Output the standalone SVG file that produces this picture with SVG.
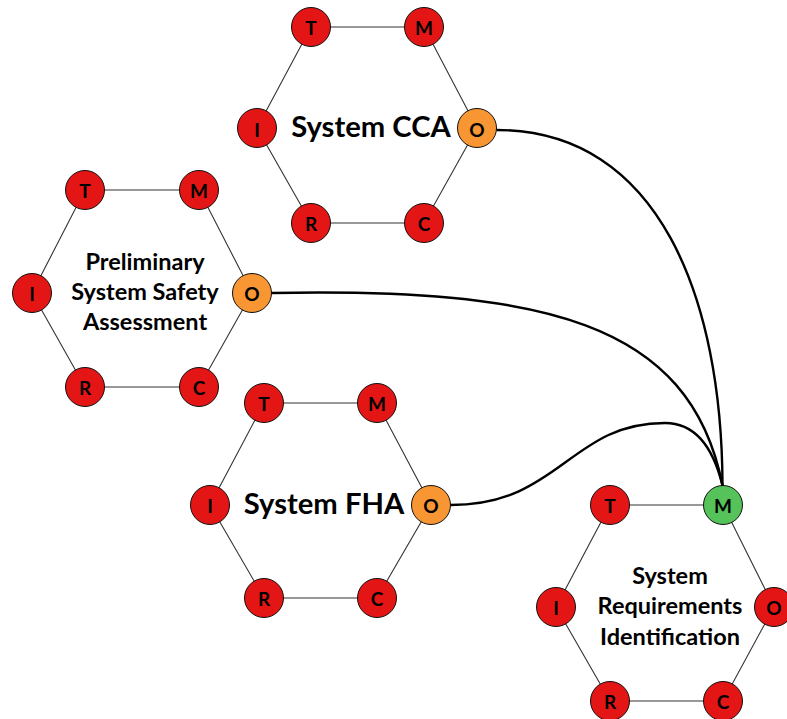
<svg xmlns="http://www.w3.org/2000/svg" width="787" height="719" viewBox="0 0 787 719">
  <style>
    .edge { stroke: #333; stroke-width: 1.1; fill: none; }
    .dot { stroke: #111; stroke-width: 1; }
    .red { fill: #e41515; }
    .orange { fill: #f79633; }
    .green { fill: #55c25a; }
    .letter { font-family: Lato, "Liberation Sans", sans-serif; font-weight: bold; font-size: 19px; fill: #000; text-anchor: middle; dominant-baseline: central; }
    .title { font-family: Lato, "Liberation Sans", sans-serif; font-weight: bold; fill: #000; text-anchor: middle; }
    .big { font-size: 29.2px; }
    .small { font-size: 23.5px; }
    .link { stroke: #000; stroke-width: 2.4; fill: none; }
  </style>

  <!-- System CCA -->
  <g id="system-cca">
    <polygon class="edge" points="311,27 424,27 477,128 424,223 311,223 257,128"/>
    <circle class="dot red" cx="311" cy="27" r="19.5"/><text class="letter" x="311" y="27">T</text>
    <circle class="dot red" cx="424" cy="27" r="19.5"/><text class="letter" x="424" y="27">M</text>
    <circle class="dot orange" cx="477" cy="128" r="19.5"/><text class="letter" x="477" y="129">O</text>
    <circle class="dot red" cx="424" cy="223" r="19.5"/><text class="letter" x="424" y="223">C</text>
    <circle class="dot red" cx="311" cy="223" r="19.5"/><text class="letter" x="311" y="223">R</text>
    <circle class="dot red" cx="257" cy="128" r="19.5"/><text class="letter" x="257" y="129">I</text>
    <text class="title big" x="371" y="137">System CCA</text>
  </g>

  <!-- Preliminary System Safety Assessment -->
  <g id="pssa">
    <polygon class="edge" points="85,190 199,190 252,293 199,387 85,387 32,293"/>
    <circle class="dot red" cx="85" cy="190" r="19.5"/><text class="letter" x="85" y="190">T</text>
    <circle class="dot red" cx="199" cy="190" r="19.5"/><text class="letter" x="199" y="190">M</text>
    <circle class="dot orange" cx="252" cy="293" r="19.5"/><text class="letter" x="252" y="293">O</text>
    <circle class="dot red" cx="199" cy="387" r="19.5"/><text class="letter" x="199" y="387">C</text>
    <circle class="dot red" cx="85" cy="387" r="19.5"/><text class="letter" x="85" y="387">R</text>
    <circle class="dot red" cx="32" cy="293" r="19.5"/><text class="letter" x="32" y="293">I</text>
    <text class="title small" x="145" y="270">Preliminary</text>
    <text class="title small" x="145" y="300">System Safety</text>
    <text class="title small" x="145" y="330">Assessment</text>
  </g>

  <!-- System FHA -->
  <g id="system-fha">
    <polygon class="edge" points="264,403 377,403 431,505 377,598 264,598 210,505"/>
    <circle class="dot red" cx="264" cy="403" r="19.5"/><text class="letter" x="264" y="403">T</text>
    <circle class="dot red" cx="377" cy="403" r="19.5"/><text class="letter" x="377" y="403">M</text>
    <circle class="dot orange" cx="431" cy="505" r="19.5"/><text class="letter" x="431" y="505">O</text>
    <circle class="dot red" cx="377" cy="598" r="19.5"/><text class="letter" x="377" y="598">C</text>
    <circle class="dot red" cx="264" cy="598" r="19.5"/><text class="letter" x="264" y="598">R</text>
    <circle class="dot red" cx="210" cy="505" r="19.5"/><text class="letter" x="210" y="505">I</text>
    <text class="title big" x="324" y="514">System FHA</text>
  </g>

  <!-- System Requirements Identification -->
  <g id="system-requirements">
    <polygon class="edge" points="610,505 723,505 774,607 723,701 610,701 556,607"/>
    <circle class="dot red" cx="610" cy="505" r="19.5"/><text class="letter" x="610" y="505">T</text>
    <circle class="dot green" cx="723" cy="505" r="19.5"/><text class="letter" x="723" y="505">M</text>
    <circle class="dot red" cx="774" cy="607" r="19.5"/><text class="letter" x="774" y="607">O</text>
    <circle class="dot red" cx="723" cy="701" r="19.5"/><text class="letter" x="723" y="701">C</text>
    <circle class="dot red" cx="610" cy="701" r="19.5"/><text class="letter" x="610" y="701">R</text>
    <circle class="dot red" cx="556" cy="607" r="19.5"/><text class="letter" x="556" y="607">I</text>
    <text class="title small" x="670" y="584">System</text>
    <text class="title small" x="670" y="614">Requirements</text>
    <text class="title small" x="670" y="645">Identification</text>
  </g>

  <!-- Outputs feeding the requirements node -->
  <g id="connectors">
    <path class="link" d="M496.5,130 C660,130 722,300 722.5,485.5"/>
    <path class="link" d="M271.5,293 C540,288 690,320 722.5,485.5"/>
    <path class="link" d="M450.5,505 C560,505 570,423 665,423 C700,423 715,455 722.5,485.5"/>
  </g>
</svg>
